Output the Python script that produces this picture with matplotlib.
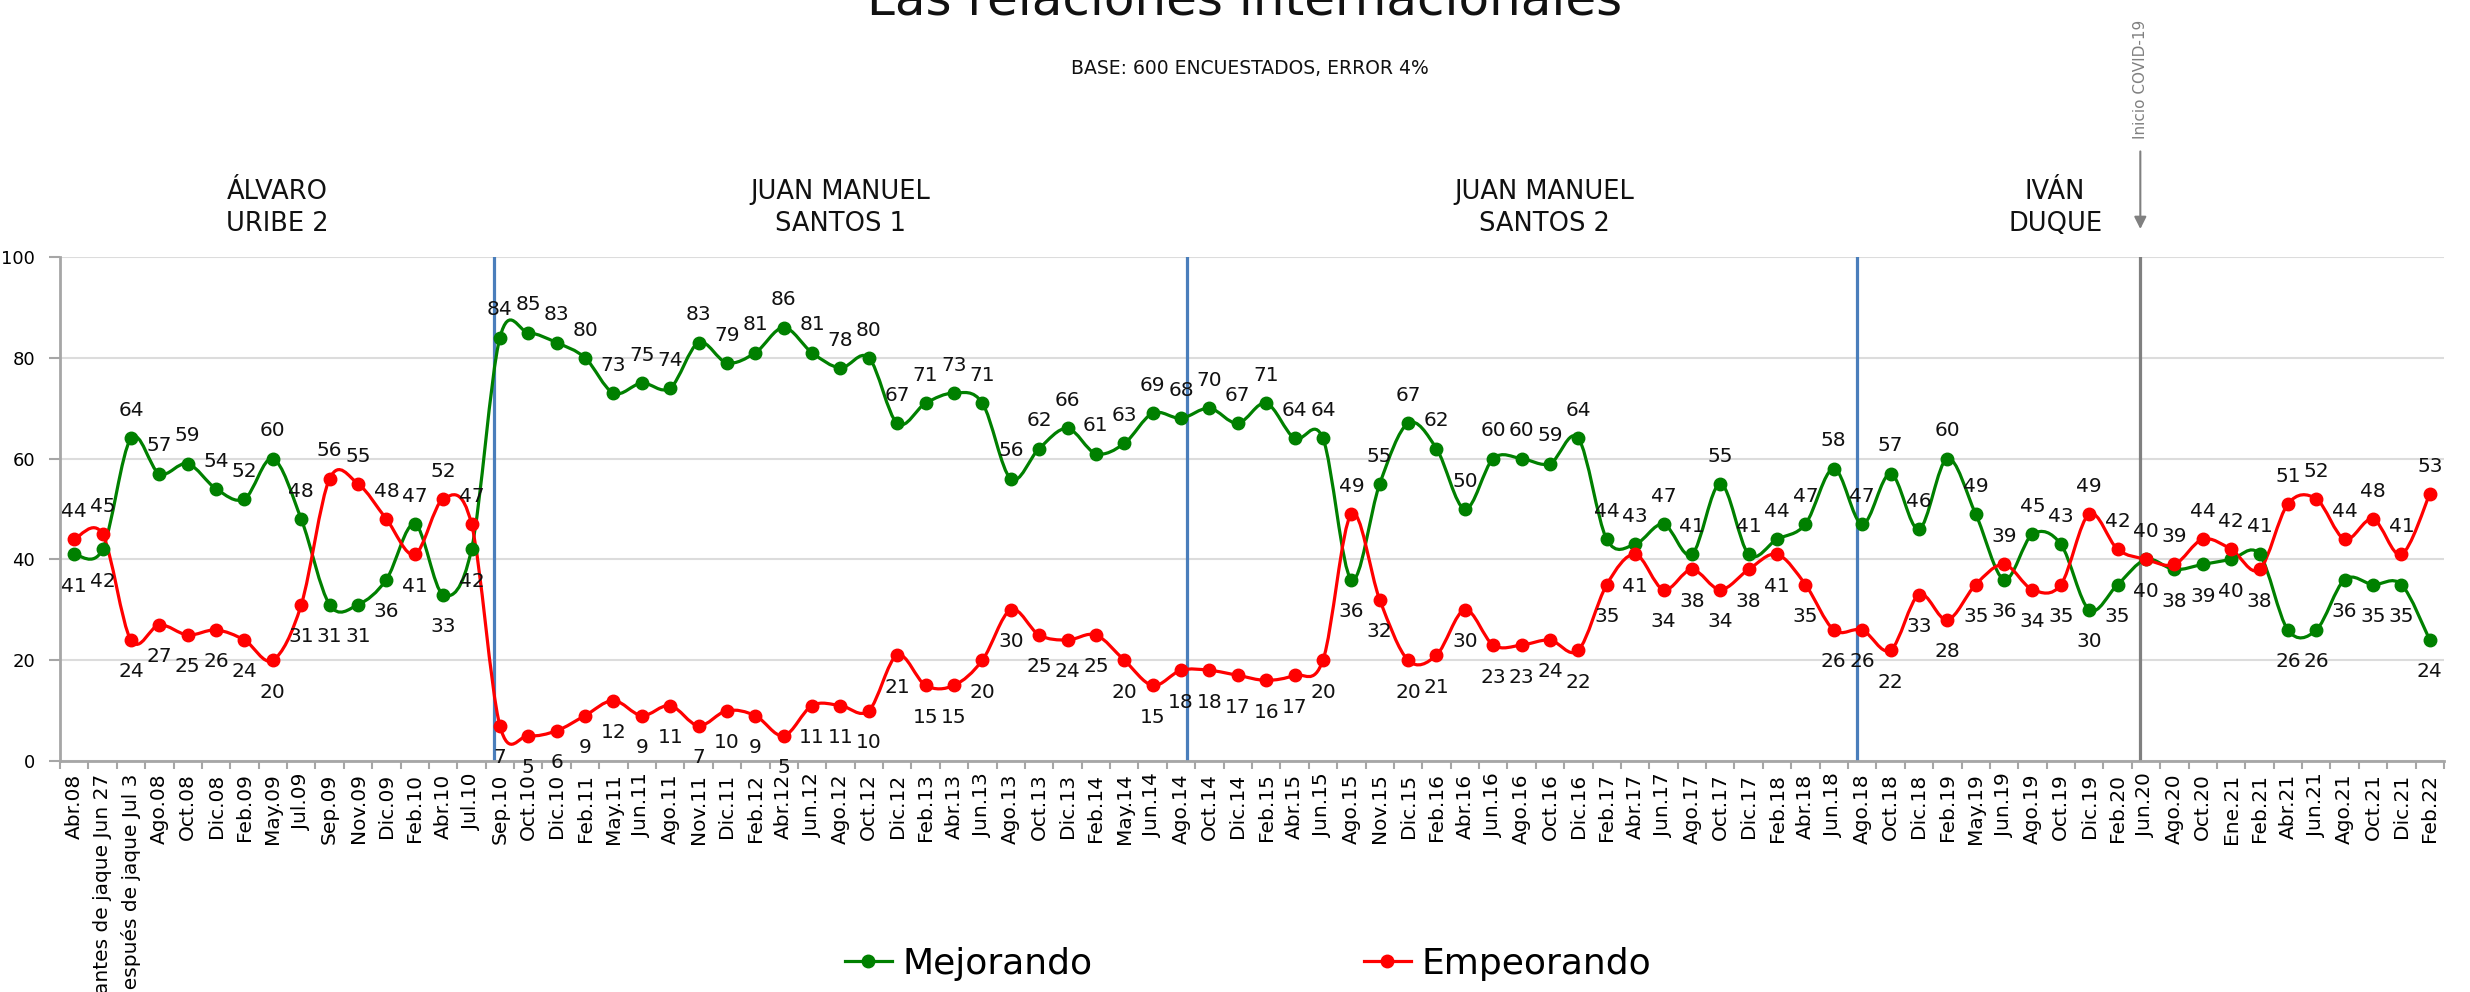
import numpy as np
import matplotlib
matplotlib.use("Agg")
import matplotlib.pyplot as plt
from matplotlib.path import Path
from matplotlib.patches import PathPatch
from matplotlib.lines import Line2D

# survey rounds
periodos = ["Abr.08", "antes de jaque Jun 27", "después de jaque Jul 3", "Ago.08", "Oct.08",
            "Dic.08", "Feb.09", "May.09", "Jul.09", "Sep.09", "Nov.09", "Dic.09", "Feb.10",
            "Abr.10", "Jul.10", "Sep.10", "Oct.10", "Dic.10", "Feb.11", "May.11", "Jun.11",
            "Ago.11", "Nov.11", "Dic.11", "Feb.12", "Abr.12", "Jun.12", "Ago.12", "Oct.12",
            "Dic.12", "Feb.13", "Abr.13", "Jun.13", "Ago.13", "Oct.13", "Dic.13", "Feb.14",
            "May.14", "Jun.14", "Ago.14", "Oct.14", "Dic.14", "Feb.15", "Abr.15", "Jun.15",
            "Ago.15", "Nov.15", "Dic.15", "Feb.16", "Abr.16", "Jun.16", "Ago.16", "Oct.16",
            "Dic.16", "Feb.17", "Abr.17", "Jun.17", "Ago.17", "Oct.17", "Dic.17", "Feb.18",
            "Abr.18", "Jun.18", "Ago.18", "Oct.18", "Dic.18", "Feb.19", "May.19", "Jun.19",
            "Ago.19", "Oct.19", "Dic.19", "Feb.20", "Jun.20", "Ago.20", "Oct.20", "Ene.21",
            "Feb.21", "Abr.21", "Jun.21", "Ago.21", "Oct.21", "Dic.21", "Feb.22"]

mejorando = [41, 42, 64, 57, 59, 54, 52, 60, 48, 31, 31, 36, 47, 33, 42,
             84, 85, 83, 80, 73, 75, 74, 83, 79, 81, 86, 81, 78, 80, 67, 71, 73, 71,
             56, 62, 66, 61, 63, 69, 68, 70, 67, 71, 64, 64, 36, 55, 67, 62, 50, 60,
             60, 59, 64, 44, 43, 47, 41, 55, 41, 44, 47, 58, 47, 57, 46, 60, 49, 36,
             45, 43, 30, 35, 40, 38, 39, 40, 41, 26, 26, 36, 35, 35, 24]

empeorando = [44, 45, 24, 27, 25, 26, 24, 20, 31, 56, 55, 48, 41, 52, 47,
              7, 5, 6, 9, 12, 9, 11, 7, 10, 9, 5, 11, 11, 10, 21, 15, 15, 20,
              30, 25, 24, 25, 20, 15, 18, 18, 17, 16, 17, 20, 49, 32, 20, 21, 30, 23,
              23, 24, 22, 35, 41, 34, 38, 34, 38, 41, 35, 26, 26, 22, 33, 28, 35, 39,
              34, 35, 49, 42, 40, 39, 44, 42, 38, 51, 52, 44, 48, 41, 53]

gobiernos = ["ÁLVARO\nURIBE 2", "JUAN MANUEL\nSANTOS 1", "JUAN MANUEL\nSANTOS 2", "IVÁN\nDUQUE"]
gobierno_x = [7.15, 27.0, 51.8, 69.8]
cambios = [14.8, 39.2, 62.8]
covid_x = 72.8

VERDE = "#008000"
ROJO = "#ff0000"


def curva(xs, ys):
    # smoothed line like the spreadsheet one (catmull-rom as bezier)
    p = np.column_stack([xs, ys]).astype(float)
    n = len(p)
    verts = [p[0]]
    codes = [Path.MOVETO]
    for i in range(n - 1):
        p0 = p[i - 1] if i > 0 else p[i]
        p3 = p[i + 2] if i + 2 < n else p[i + 1]
        verts += [p[i] + (p[i + 1] - p0) / 6, p[i + 1] - (p3 - p[i]) / 6, p[i + 1]]
        codes += [Path.CURVE4] * 3
    return Path(verts, codes)


fig = plt.figure(figsize=(24.7, 9.92), dpi=100)
ax = fig.add_axes([60 / 2470, 231 / 992, 2384 / 2470, 504 / 992])

x = np.arange(len(periodos))
for serie, color in [(mejorando, VERDE), (empeorando, ROJO)]:
    ax.add_patch(PathPatch(curva(x, serie), facecolor="none", edgecolor=color, lw=2.3, zorder=3))
    ax.plot(x, serie, "o", color=color, ms=9, zorder=4)

# data labels: the upper series above, the lower one below
for i in x:
    m, e = mejorando[i], empeorando[i]
    dm, de = (20, -23) if m > e else (-23, 20)
    ax.annotate(str(m), (i, m), xytext=(0, dm), textcoords="offset points",
                ha="center", va="center", fontsize=14.5, color="#111111", zorder=5)
    ax.annotate(str(e), (i, e), xytext=(0, de), textcoords="offset points",
                ha="center", va="center", fontsize=14.5, color="#111111", zorder=5)

for c in cambios:
    ax.axvline(c, color="#4a7ebb", lw=2.3, zorder=2)
ax.axvline(covid_x, color="#808080", lw=2.3, zorder=2)

ax.annotate("", xy=(covid_x, 1.05), xytext=(covid_x, 1.215),
            xycoords=("data", "axes fraction"),
            arrowprops=dict(arrowstyle="-|>", color="#808080", lw=1.5, mutation_scale=18))
ax.text(covid_x, 1.235, "Inicio COVID-19", transform=ax.get_xaxis_transform(),
        rotation=90, ha="center", va="bottom", fontsize=11, color="#808080")

for gx, g in zip(gobierno_x, gobiernos):
    ax.text(gx, 1.097, g, transform=ax.get_xaxis_transform(), ha="center", va="center",
            fontsize=18.5, linespacing=1.3, color="#111111")

ax.set_xlim(-0.5, len(periodos) - 0.5)
ax.set_ylim(0, 100)
ax.set_yticks([0, 20, 40, 60, 80, 100])
ax.tick_params(axis="y", length=8, width=1.5, color="#a6a6a6", labelsize=13, pad=10)
ax.set_xticks(x)
ax.set_xticklabels(periodos, rotation=90, fontsize=14.5)
ax.tick_params(axis="x", which="major", length=0, pad=9)
ax.set_xticks(np.arange(-0.5, len(periodos), 1), minor=True)
ax.tick_params(axis="x", which="minor", length=6, width=1.5, color="#a6a6a6")
ax.grid(axis="y", color="#dcdcdc", lw=1.5)
ax.set_axisbelow(True)
for s in ["top", "right"]:
    ax.spines[s].set_visible(False)
for s in ["left", "bottom"]:
    ax.spines[s].set_color("#a6a6a6")
    ax.spines[s].set_linewidth(2)

fig.text(0.504, 0.985, "Las relaciones internacionales", ha="center", va="baseline",
         fontsize=36, color="#111111")
fig.text(0.506, 1 - 69 / 992, "BASE: 600 ENCUESTADOS, ERROR 4%", ha="center", va="center",
         fontsize=13.5, color="#111111")

handles = [Line2D([], [], color=VERDE, lw=2.3, marker="o", ms=9),
           Line2D([], [], color=ROJO, lw=2.3, marker="o", ms=9)]
fig.legend(handles, ["Mejorando", "Empeorando"], loc="center",
           bbox_to_anchor=(1248 / 2470, 1 - 964 / 992), ncol=2, frameon=False,
           fontsize=26, handlelength=1.3, handletextpad=0.3, columnspacing=7.5)

fig.savefig("out.png", dpi=100)
